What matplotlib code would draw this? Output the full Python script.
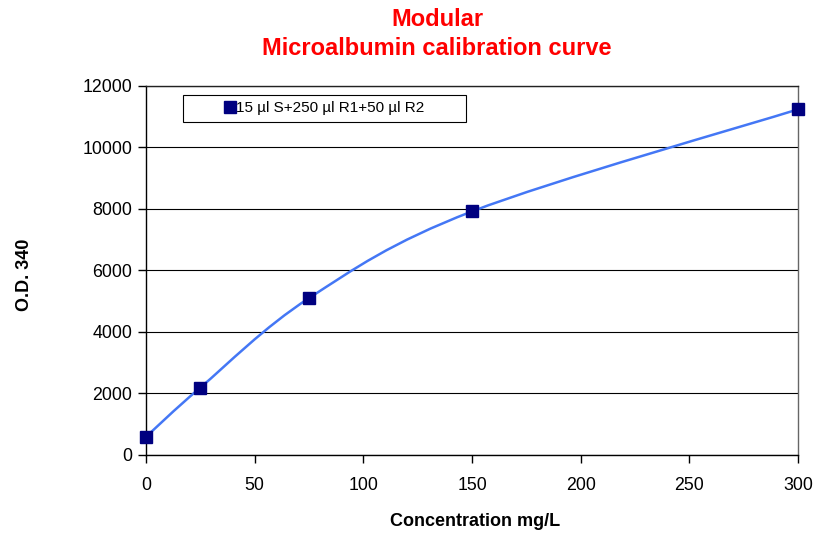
import matplotlib
matplotlib.use('Agg')
from matplotlib import pyplot as plt
from matplotlib.path import Path
from matplotlib.patches import PathPatch, Rectangle
from matplotlib.lines import Line2D

plt.rcParams['font.family'] = ['Liberation Sans', 'DejaVu Sans']

# calibration points
conc = [0, 25, 75, 150, 300]
od = [590, 2190, 5100, 7920, 11240]
series_label = '15 µl S+250 µl R1+50 µl R2'

fig = plt.figure(figsize=(8.28, 5.34), dpi=100)
ax = fig.add_axes([0.1763, 0.148, 0.7875, 0.691])

# smoothed line like Excel (Catmull-Rom -> cubic bezier)
verts = [(conc[0], od[0])]
codes = [Path.MOVETO]
n = len(conc)
for i in range(n - 1):
    p0 = (conc[max(i - 1, 0)], od[max(i - 1, 0)])
    p1 = (conc[i], od[i])
    p2 = (conc[i + 1], od[i + 1])
    p3 = (conc[min(i + 2, n - 1)], od[min(i + 2, n - 1)])
    c1 = (p1[0] + (p2[0] - p0[0]) / 6.0, p1[1] + (p2[1] - p0[1]) / 6.0)
    c2 = (p2[0] - (p3[0] - p1[0]) / 6.0, p2[1] - (p3[1] - p1[1]) / 6.0)
    verts += [c1, c2, p2]
    codes += [Path.CURVE4] * 3
ax.add_patch(PathPatch(Path(verts, codes), facecolor='none',
                       edgecolor='#4477f5', lw=1.8, zorder=3))

ax.plot(conc, od, linestyle='none', marker='s', markersize=9,
        color='#000080', zorder=4, clip_on=False)

ax.set_xlim(0, 300)
ax.set_ylim(0, 12000)
ax.set_xticks(range(0, 301, 50))
ax.set_yticks(range(0, 12001, 2000))
ax.tick_params(labelsize=12.8, direction='out', length=6, width=1)
ax.tick_params(axis='x', pad=10)
ax.tick_params(axis='y', pad=4)
ax.yaxis.grid(True, color='black', lw=0.8)
ax.set_axisbelow(True)
for s in ax.spines.values():
    s.set_linewidth(1.0)
ax.spines['top'].set_color('#222222')
ax.spines['right'].set_color('#666666')

fig.text(0.528, 0.964, 'Modular', color='red', fontsize=17,
         fontweight='bold', ha='center', va='center')
fig.text(0.527, 0.910, 'Microalbumin calibration curve', color='red',
         fontsize=17, fontweight='bold', ha='center', va='center')
fig.text(0.030, 0.485, 'O.D. 340', rotation=90, fontsize=13,
         fontweight='bold', ha='center', va='center')
fig.text(0.574, 0.024, 'Concentration mg/L', fontsize=13,
         fontweight='bold', ha='center', va='center')

# legend box
ax.add_patch(Rectangle((0.0567, 0.9024), 0.434, 0.073, transform=ax.transAxes,
                       facecolor='white', edgecolor='black', lw=0.8, zorder=5))
h = Line2D([], [], linestyle='none', marker='s', markersize=9, color='#000080')
leg = ax.legend([h], [series_label], loc='center left',
                bbox_to_anchor=(0.122, 0.939), fontsize=11,
                frameon=False, handlelength=0.6,
                handletextpad=0.1, borderpad=0, borderaxespad=0)
leg.set_zorder(6)

plt.savefig('out.png', dpi=100)
